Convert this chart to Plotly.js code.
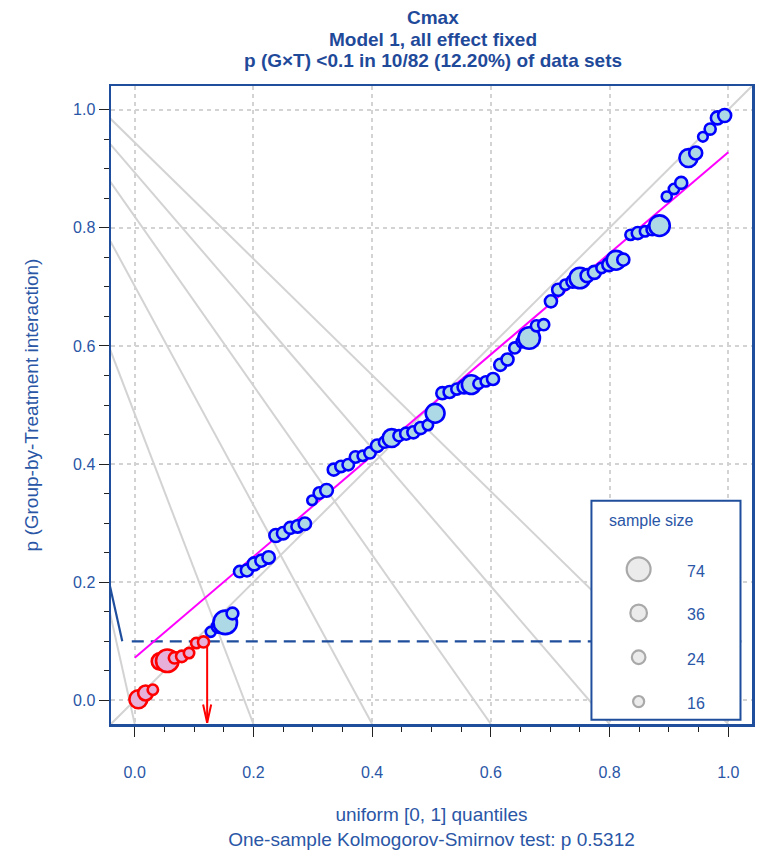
<!DOCTYPE html>
<html><head><meta charset="utf-8">
<script src="https://cdn.plot.ly/plotly-3.0.1.min.js"></script>
<style>html,body{margin:0;padding:0;background:#fff}#chart{width:759px;height:850px}</style>
</head><body><div id="chart"></div>
<script>
// ---- data ----
const pValues = [
  0.002, 0.0125, 0.018, 0.066, 0.067, 0.072, 0.0745, 0.080, 0.097, 0.099,
  0.116, 0.125, 0.132, 0.147, 0.218, 0.220, 0.231, 0.2365, 0.242, 0.279,
  0.283, 0.292, 0.2945, 0.299, 0.3386, 0.351, 0.3555, 0.3906, 0.396, 0.399,
  0.412, 0.414, 0.419, 0.431, 0.437, 0.444, 0.448, 0.4515, 0.4537, 0.461,
  0.466, 0.486, 0.520, 0.522, 0.527, 0.5306, 0.5345, 0.536, 0.540, 0.544,
  0.568, 0.577, 0.5966, 0.607, 0.6135, 0.634, 0.636, 0.6755, 0.695, 0.7037,
  0.709, 0.715, 0.719, 0.7245, 0.732, 0.7376, 0.745, 0.746, 0.788, 0.791,
  0.794, 0.797, 0.8036, 0.853, 0.8657, 0.876, 0.918, 0.9267, 0.954, 0.967,
  0.986, 0.990
];
const sampleSizes = [
  42, 29, 14, 36, 66, 17, 17, 14, 14, 16,
  13, 20, 72, 18, 17, 19, 22, 19, 20, 22,
  20, 19, 20, 20, 12, 17, 21, 19, 17, 17,
  17, 14, 17, 20, 16, 42, 16, 19, 19, 19,
  14, 46, 19, 19, 16, 22, 46, 14, 14, 19,
  19, 19, 16, 16, 60, 16, 16, 19, 19, 14,
  20, 55, 22, 22, 14, 22, 46, 19, 14, 19,
  14, 17, 55, 13, 14, 19, 42, 22, 12, 16,
  22, 22
];
const nSets = 82;
const threshold = 0.1;
const fitIntercept = 0.072;   // magenta fitted line at x = 0
const fitAtOne = 0.928;       // magenta fitted line at x = 1
const shareBelow = 0.1220;    // 10/82
const ksP = '0.5312';
const legendSizes = [74, 36, 24, 16];
const fanEnds = [0, 0.2, 0.4, 0.6, 0.8, 1.0];

// uniform [0,1] quantiles of the ranks
const quantiles = pValues.map((_, i) => (i + 0.5) / nSets);

// ---- styling / layout constants ----
const FONT = 'Liberation Sans, Arial, sans-serif';
const BLUE = '#1f4e9c';
const TXT = '#2a56a6';
const SIZEREF = 0.26;
const fanOrigin = [-0.28, 1.22];
const yBottom = -0.04;

const traces = [];

// grey fan of lines
const fx = [], fy = [];
fanEnds.forEach(c => { fx.push(fanOrigin[0], c, null); fy.push(fanOrigin[1], yBottom, null); });
traces.push({x: fx, y: fy, mode: 'lines', line: {color: '#d3d3d3', width: 2}, hoverinfo: 'skip'});
// identity line
traces.push({x: [-0.05, 1.1], y: [-0.05, 1.1], mode: 'lines', line: {color: '#d3d3d3', width: 2}, hoverinfo: 'skip'});
// threshold dashed line
traces.push({x: [-0.005, 1.022], y: [threshold, threshold], mode: 'lines', line: {color: BLUE, width: 2.2, dash: '12px,7px'}, hoverinfo: 'skip'});
// short solid segment at left
traces.push({x: [-0.045, -0.021], y: [threshold + 0.108, threshold], mode: 'lines', line: {color: BLUE, width: 2.2}, hoverinfo: 'skip'});
// fitted line
traces.push({x: [0, 1], y: [fitIntercept, fitAtOne], mode: 'lines', line: {color: '#ff00ff', width: 2}, hoverinfo: 'skip'});
// red arrow
traces.push({x: [shareBelow, shareBelow], y: [threshold, -0.038], mode: 'lines', line: {color: '#ff0000', width: 2}, hoverinfo: 'skip'});
traces.push({x: [shareBelow - 0.0068, shareBelow, shareBelow + 0.0068], y: [-0.007, -0.038, -0.007], mode: 'lines', line: {color: '#ff0000', width: 2}, hoverinfo: 'skip'});

// points
const lowX = [], lowY = [], lowS = [], hiX = [], hiY = [], hiS = [];
pValues.forEach((p, i) => {
  if (p < threshold) { lowX.push(quantiles[i]); lowY.push(p); lowS.push(sampleSizes[i]); }
  else { hiX.push(quantiles[i]); hiY.push(p); hiS.push(sampleSizes[i]); }
});
traces.push({x: hiX, y: hiY, mode: 'markers', hoverinfo: 'skip', cliponaxis: false,
  marker: {size: hiS, sizemode: 'area', sizeref: SIZEREF, color: '#add8e6', line: {color: '#0000ff', width: 2.6}, opacity: 1}});
traces.push({x: lowX, y: lowY, mode: 'markers', hoverinfo: 'skip', cliponaxis: false,
  marker: {size: lowS, sizemode: 'area', sizeref: SIZEREF, color: '#e6b0d8', line: {color: '#ff0000', width: 2.6}, opacity: 1}});

// legend box (drawn above lines)
const legX0 = 0.7695, legX1 = 1.0206, legY0 = -0.0327, legY1 = 0.338;
const legCircleX = 0.849, legLabelX = 0.9455;
const legRowY = [0.222, 0.148, 0.073, -0.002];
const shapes = [{type: 'rect', xref: 'x', yref: 'y', x0: legX0, x1: legX1, y0: legY0, y1: legY1,
  fillcolor: '#ffffff', line: {color: BLUE, width: 2}, layer: 'above'}];
const annotations = [];
legendSizes.forEach((n, k) => {
  const r = Math.sqrt(2 * n / SIZEREF) / 2;
  shapes.push({type: 'circle', xref: 'x', yref: 'y', xsizemode: 'pixel', ysizemode: 'pixel',
    xanchor: legCircleX, yanchor: legRowY[k], x0: -r, x1: r, y0: -r, y1: r,
    fillcolor: '#ebebeb', line: {color: '#a9a9a9', width: 2.2}, layer: 'above'});
  annotations.push({x: legLabelX, y: legRowY[k], xref: 'x', yref: 'y', text: String(n), showarrow: false,
    xanchor: 'center', yanchor: 'middle', yshift: -2, font: {family: FONT, size: 16, color: TXT}});
});
annotations.push({x: 0.8706, y: 0.304, xref: 'x', yref: 'y', text: 'sample size', showarrow: false,
  xanchor: 'center', yanchor: 'middle', font: {family: FONT, size: 16, color: TXT}});
// arrow label
annotations.push({x: shareBelow, y: -0.078, xref: 'x', yref: 'y', text: shareBelow.toFixed(4), showarrow: false,
  xanchor: 'center', yanchor: 'middle', font: {family: FONT, size: 16, color: '#3a68b4'}});
// title lines
const titleLines = ['Cmax', 'Model 1, all effect fixed', 'p (G×T) &lt;0.1 in 10/82 (12.20%) of data sets'];
const titleY = [1.108, 1.0735, 1.0406];
titleLines.forEach((t, k) => annotations.push({x: 0.503, y: titleY[k], xref: 'paper', yref: 'paper',
  text: '<b>' + t + '</b>', showarrow: false, xanchor: 'center', yanchor: 'middle',
  font: {family: FONT, size: 19, color: '#1f4a9a'}}));

const axisCommon = {
  range: [-0.04, 1.04], dtick: 0.2, tick0: 0, tickformat: '.1f',
  ticks: 'outside', ticklen: 10, tickwidth: 1, tickcolor: '#222',
  showline: true, linecolor: BLUE, linewidth: 2.5, mirror: true,
  showgrid: true, gridcolor: '#d3d3d3', gridwidth: 2, griddash: '4px,4px',
  zeroline: false, fixedrange: true,
  minor: {dtick: 0.05, tick0: 0, ticks: 'outside', ticklen: 5, tickwidth: 1, tickcolor: '#222', showgrid: false},
  tickfont: {family: FONT, size: 16, color: TXT}
};

const layout = {
  width: 759, height: 850,
  margin: {l: 111, r: 7, t: 86, b: 126},
  paper_bgcolor: '#ffffff', plot_bgcolor: '#ffffff',
  showlegend: false, hovermode: false,
  font: {family: FONT, color: TXT},
  xaxis: Object.assign({}, axisCommon, {
    ticklabelstandoff: 22,
    title: {text: 'uniform [0, 1] quantiles<br>One-sample Kolmogorov-Smirnov test: p ' + ksP,
      font: {family: FONT, size: 19, color: TXT}, standoff: 30}
  }),
  yaxis: Object.assign({}, axisCommon, {
    title: {text: 'p (Group-by-Treatment interaction)', font: {family: FONT, size: 19, color: TXT}, standoff: 30}
  }),
  shapes: shapes,
  annotations: annotations
};

Plotly.newPlot('chart', traces, layout, {displayModeBar: false, staticPlot: true});
</script>
</body></html>
